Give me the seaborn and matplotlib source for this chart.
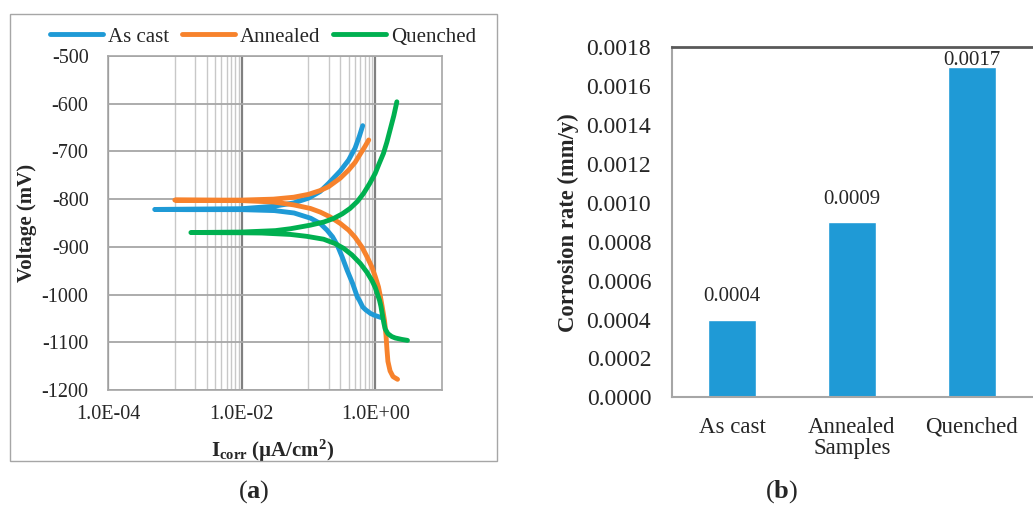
import numpy as np
import pandas as pd
import matplotlib
matplotlib.use('Agg')
import matplotlib.pyplot as plt
import seaborn as sns
from matplotlib.ticker import FixedLocator, FuncFormatter, NullFormatter, MultipleLocator
from matplotlib.patches import Rectangle

# ---- (a) polarization curves ----
# current density (uA/cm2) and voltage (mV), path from cathodic end -> Ecorr -> anodic end
as_cast_i = [1.22, 1.0, 0.86, 0.72, 0.65, 0.58, 0.54, 0.46, 0.38, 0.32, 0.27, 0.23,
             0.19, 0.15, 0.108, 0.061, 0.031, 0.01, 1.5e-3, 5.0e-4,
             1.5e-3, 0.01, 0.03, 0.06, 0.1, 0.15, 0.2, 0.3, 0.4, 0.5, 0.58, 0.65]
as_cast_v = [-1048, -1044, -1040, -1032, -1026, -1012, -1005, -977, -949, -921, -896, -879,
             -865, -851, -840, -829, -824, -822, -822, -821.6,
             -821, -820, -815, -808, -798, -784, -767, -741, -718, -693, -668, -646]

annealed_i = [2.16, 1.85, 1.67, 1.55, 1.50, 1.45, 1.38, 1.30, 1.20, 1.12, 1.0, 0.89,
              0.75, 0.63, 0.50, 0.40, 0.30, 0.21, 0.15, 0.107, 0.06, 0.03, 0.01, 1.0e-3,
              0.01, 0.03, 0.06, 0.1, 0.15, 0.2, 0.3, 0.4, 0.5, 0.6, 0.7, 0.8]
annealed_v = [-1177.6, -1172, -1160, -1140, -1115, -1085, -1055, -1033, -1005, -984, -962, -942,
              -920, -900, -880, -865, -851, -837, -827, -819.5, -812, -806, -803, -802,
              -802, -800, -796, -790, -782, -774, -756, -739, -723, -705, -690, -676]

quenched_i = [3.04, 2.5, 2.0, 1.77, 1.55, 1.41, 1.35, 1.30, 1.22, 1.16, 1.0, 0.89,
              0.75, 0.60, 0.45, 0.336, 0.25, 0.169, 0.095, 0.054, 0.02, 0.01, 1.74e-3,
              0.01, 0.032, 0.054, 0.107, 0.17, 0.238, 0.32, 0.42, 0.54, 0.67, 0.82,
              1.0, 1.15, 1.33, 1.5, 1.67, 1.9, 2.11]
quenched_v = [-1096, -1094, -1091, -1088, -1082, -1072, -1060, -1048, -1025, -1012, -985, -970,
              -953, -935, -917, -903, -893, -884, -878, -874, -871, -870.5, -870,
              -869, -866, -862, -854.5, -848, -840.5, -831, -819.5, -805, -788, -768,
              -746, -725, -704, -680, -655, -625, -596]

samples = ['As cast', 'Annealed', 'Quenched']
line_colors = ['#1F9AD6', '#F7822C', '#00B050']

# ---- (b) corrosion rate ----
categories = ['As cast', 'Annealed\nSamples', 'Quenched']
rates = [0.0004, 0.0009, 0.0017]
bar_color = '#1F9AD6'

curves = pd.concat([
    pd.DataFrame({'I': as_cast_i, 'V': as_cast_v, 'Sample': 'As cast'}),
    pd.DataFrame({'I': annealed_i, 'V': annealed_v, 'Sample': 'Annealed'}),
    pd.DataFrame({'I': quenched_i, 'V': quenched_v, 'Sample': 'Quenched'}),
], ignore_index=True)

sns.set_style('white')
plt.rcParams['font.family'] = ['Liberation Serif', 'DejaVu Serif']
plt.rcParams['axes.unicode_minus'] = False
plt.rcParams['mathtext.fontset'] = 'custom'
plt.rcParams['mathtext.rm'] = 'Liberation Serif'
plt.rcParams['mathtext.it'] = 'Liberation Serif:italic'
plt.rcParams['mathtext.bf'] = 'Liberation Serif:bold'

W, H = 1033, 516
fig = plt.figure(figsize=(W / 100, H / 100), dpi=100)
ax1 = fig.add_axes([108 / W, 1 - 390 / H, 334 / W, 334 / H])
ax2 = fig.add_axes([672 / W, 1 - 397.3 / H, 360 / W, 350 / H])

# outer frame of chart (a)
fig.patches.append(Rectangle((9.7 / W, 1 - 461 / H), 487 / W, 447.3 / H,
                             transform=fig.transFigure, fill=False,
                             edgecolor='#A6A6A6', lw=1))

# ---------- chart (a) ----------
ax1.set_xscale('log')
sns.lineplot(data=curves, x='I', y='V', hue='Sample', hue_order=samples,
             palette=line_colors, sort=False, estimator=None, lw=3.5,
             ax=ax1, legend=True)
for ln in ax1.get_lines():
    ln.set_solid_capstyle('round')
    ln.set_solid_joinstyle('round')
ax1.set_xlim(1e-4, 10)
ax1.set_ylim(-1200, -500)
ax1.xaxis.set_major_locator(FixedLocator([1e-4, 1e-2, 1e0]))
ax1.xaxis.set_major_formatter(FuncFormatter(lambda x, p: f'{x:.1E}'))
minor = [m * 10.0 ** e for e in (-3, -1) for m in range(1, 10)]
ax1.xaxis.set_minor_locator(FixedLocator(minor))
ax1.xaxis.set_minor_formatter(NullFormatter())
ax1.yaxis.set_major_locator(MultipleLocator(100))
ax1.grid(True, which='major', axis='x', color='#808080', lw=1.6)
ax1.grid(True, which='minor', axis='x', color='#C8C8C8', lw=1.0)
ax1.grid(True, which='major', axis='y', color='#A6A6A6', lw=1.3)
ax1.set_axisbelow(True)
ax1.tick_params(which='both', length=0, labelsize=14.5)
ax1.tick_params(axis='y', pad=14)
ax1.tick_params(axis='x', pad=11)
for s in ax1.spines.values():
    s.set_color('#A6A6A6')
    s.set_linewidth(1.2)

ax1.set_ylabel('Voltage (mV)', fontsize=15, fontweight='bold')
ax1.yaxis.set_label_coords(-0.2126, 0.5)
ax1.set_xlabel(r'$\mathbf{I_{corr}}$ (µA/cm$^{\mathbf{2}}$)', fontsize=15, fontweight='bold')
ax1.xaxis.set_label_coords(0.494, -0.143)

sns.move_legend(ax1, 'center', bbox_to_anchor=(0.464, 1.057), ncol=3, frameon=False,
                title=None, fontsize=15, handlelength=2.55, handletextpad=0.25,
                columnspacing=0.6)
for h in ax1.get_legend().get_lines():
    h.set_linewidth(3.5)

# ---------- chart (b) ----------
sns.barplot(x=categories, y=rates, color=bar_color, saturation=1, width=0.4, ax=ax2)
ax2.set_xlim(-0.5, 2.5)
ax2.set_ylim(0, 0.0018)
ax2.yaxis.set_major_locator(MultipleLocator(0.0002))
ax2.yaxis.set_major_formatter(FuncFormatter(lambda y, p: f'{y:.4f}'))
ax2.xaxis.set_minor_locator(FixedLocator([-0.5, 0.5, 1.5]))
ax2.tick_params(axis='x', which='major', length=0, labelsize=16.5, pad=14)
ax2.tick_params(axis='x', which='minor', length=7, width=1.5, color='#A6A6A6', direction='out')
ax2.tick_params(axis='y', length=6, width=1.5, color='#A6A6A6', direction='out',
                labelsize=17, pad=9)
for lab in ax2.get_xticklabels():
    lab.set_linespacing(1.0)
for i, v in enumerate(rates):
    ax2.text(i, min(v + 0.000118, 0.001734), f'{v:.4f}', ha='center', va='center',
             fontsize=15)
ax2.spines['left'].set_color('#A6A6A6')
ax2.spines['left'].set_linewidth(1.5)
ax2.spines['bottom'].set_color('#A6A6A6')
ax2.spines['bottom'].set_linewidth(1.5)
ax2.spines['top'].set_color('#595959')
ax2.spines['top'].set_linewidth(2)
ax2.spines['right'].set_visible(False)
ax2.set_ylabel('Corrosion rate (mm/y)', fontsize=16.3, fontweight='bold')
ax2.yaxis.set_label_coords(-0.258, 0.5)

fig.text(254 / W, 1 - 492 / H, r'($\mathbf{a}$)', ha='center', va='center', fontsize=19)
fig.text(782 / W, 1 - 492 / H, r'($\mathbf{b}$)', ha='center', va='center', fontsize=19)

fig.savefig('out.png', dpi=100)
